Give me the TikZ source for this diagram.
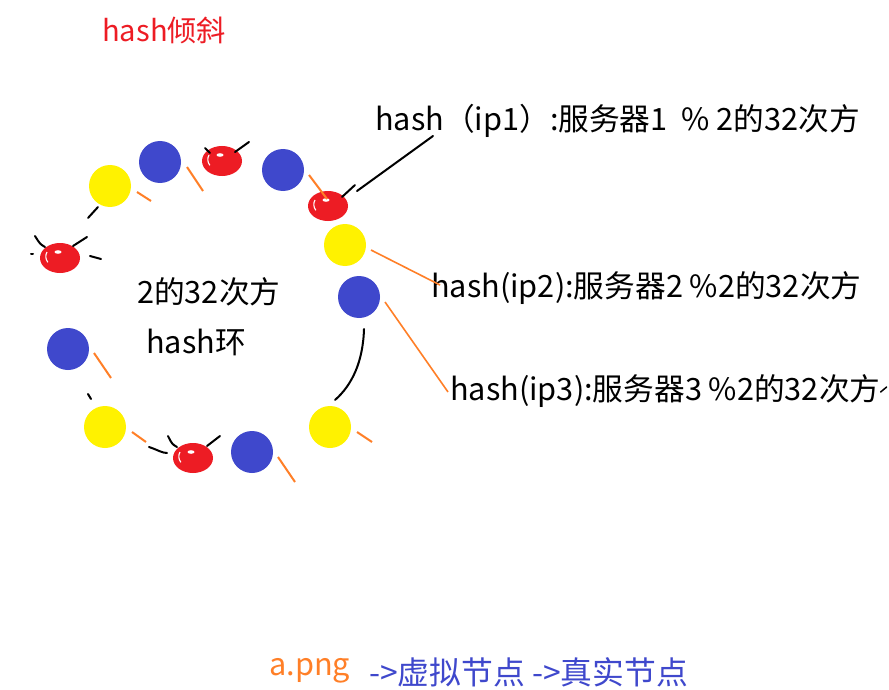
\documentclass[tikz,border=0pt]{standalone}
\usepackage{fontspec}
\setmainfont{Noto Sans CJK SC}
\usetikzlibrary{shapes.geometric}
\definecolor{pyellow}{HTML}{FFF200}
\definecolor{pblue}{HTML}{3F48CC}
\definecolor{pred}{HTML}{ED1C24}
\definecolor{porange}{HTML}{FF7F27}
\tikzset{
  ydot/.style={circle,fill=pyellow,minimum size=42pt,inner sep=0pt},
  bdot/.style={circle,fill=pblue,minimum size=42pt,inner sep=0pt},
  cherry/.style={ellipse,fill=pred,minimum width=40pt,minimum height=30pt,inner sep=0pt,
    path picture={
      \draw[white,line width=1.1pt] (path picture bounding box.center) ++(-13pt,6pt)
        arc[start angle=150,end angle=220,radius=9pt];
      \fill[white] (path picture bounding box.center) ++(-2pt,6pt) ellipse[x radius=3.5pt,y radius=1.8pt];
    }},
  tick/.style={porange,line width=2pt},
  lead/.style={porange,line width=1.6pt},
  stroke/.style={black,line width=2pt,line cap=round},
  lbl/.style={inner sep=0pt,font=\fontsize{30.7}{32}\selectfont},
}
\begin{document}
\begin{tikzpicture}[x=1pt,y=-1pt]
\useasboundingbox (0,0) rectangle (889,690);
\fill[white] (0,0) rectangle (889,690);

% title
\node[lbl,anchor=base west,text=pred,font=\fontsize{29.2}{30}\selectfont] (title) at (102,42) {hash倾斜};

% ring elements
\node[ydot] (y1) at (110,186) {};
\node[bdot] (b1) at (160,162) {};
\node[cherry] (c1) at (222,161) {};
\node[bdot] (b2) at (283,170) {};
\node[cherry] (c2) at (328,206) {};
\node[ydot] (y2) at (345,245) {};
\node[bdot] (b3) at (359,297) {};
\node[ydot] (y4) at (330,427) {};
\node[bdot] (b5) at (252,452) {};
\node[cherry] (c4) at (193,458) {};
\node[ydot] (y3) at (105,427) {};
\node[bdot] (b4) at (68,349) {};
\node[cherry] (c3) at (60,258) {};

% center labels
\node[lbl,anchor=base west] (ring1) at (137,303) {2的32次方};
\node[lbl,anchor=base west] (ring2) at (146,353) {hash环};

% right labels
\node[lbl,anchor=base west] (ip1) at (375,131) {hash（ip1）:服务器1\ \ \% 2的32次方};
\node[lbl,anchor=base west] (ip2) at (431,297) {hash(ip2):服务器2 \%2的32次方};
\node[lbl,anchor=base west] (ip3) at (450,400) {hash(ip3):服务器3 \%2的32次方};

% bottom labels
\node[lbl,anchor=base west,text=porange] (apng) at (269,675) {a.png};
\node[lbl,anchor=base west,text=pblue,font=\fontsize{31.8}{33}\selectfont] (legend) at (369,684) {->虚拟节点 ->真实节点};

% orange ticks
\draw[tick] ([shift={(27,6)}]y1.center) -- ([shift={(41,15)}]y1.center);
\draw[tick] ([shift={(27,5)}]b1.center) -- ([shift={(43,29)}]b1.center);
\draw[tick] ([shift={(26,5)}]b2.center) -- ([shift={(44,29)}]b2.center);
\draw[tick] ([shift={(26,4)}]b4.center) -- ([shift={(43,29)}]b4.center);
\draw[tick] ([shift={(27,5)}]y3.center) -- ([shift={(41,15)}]y3.center);
\draw[tick] ([shift={(26,5)}]b5.center) -- ([shift={(43,30)}]b5.center);
\draw[tick] ([shift={(27,5)}]y4.center) -- ([shift={(42,15)}]y4.center);

% orange leads to labels
\draw[lead] ([shift={(26,5)}]y2.center) -- ([shift={(9,-12)}]ip2.base west);
\draw[lead] ([shift={(26,5)}]b3.center) -- ([shift={(-2,-8)}]ip3.base west);

% black pointer from ip1 label to cherry
\draw[stroke] ([shift={(58,5)}]ip1.base west) -- ([shift={(29,-15)}]c2.center);
\draw[stroke] ([shift={(27,-21)}]c2.center) -- ([shift={(14,-9)}]c2.center);

% black ring fragments
\draw[stroke] ([shift={(-12,21)}]y1.center) -- ([shift={(-22,32)}]y1.center);
\draw[stroke] ([shift={(5,32)}]b3.center) .. controls (363,362) and (352,385) .. ([shift={(5,-27)}]y4.center);
\draw[stroke] ([shift={(-17,-33)}]y3.center) -- ([shift={(-14,-28)}]y3.center);
\draw[stroke] ([shift={(-44,-11)}]c4.center) .. controls (158,450) and (162,453) .. ([shift={(-26,-5)}]c4.center);

% cherry stems
\draw[stroke] ([shift={(-17,-13)}]c1.center) -- ([shift={(-12,-8)}]c1.center);
\draw[stroke] ([shift={(27,-19)}]c1.center) -- ([shift={(13,-9)}]c1.center);
\draw[stroke] ([shift={(-25,-22)}]c3.center) .. controls ([shift={(-20,-14)}]c3.center) .. ([shift={(-15,-11)}]c3.center);
\draw[stroke] ([shift={(27,-21)}]c3.center) -- ([shift={(13,-12)}]c3.center);
\draw[stroke] ([shift={(-29,-4)}]c3.center) -- ([shift={(-27,-4)}]c3.center);
\draw[stroke] ([shift={(30,-2)}]c3.center) -- ([shift={(41,1)}]c3.center);
\draw[stroke] ([shift={(-25,-22)}]c4.center) .. controls ([shift={(-21,-14)}]c4.center) .. ([shift={(-16,-11)}]c4.center);
\draw[stroke] ([shift={(27,-22)}]c4.center) -- ([shift={(14,-12)}]c4.center);

% small tick after ip3 label
\draw[stroke,line width=1.5pt] ([shift={(0,-8)}]ip3.base east) -- ([shift={(6,-13)}]ip3.base east);
\end{tikzpicture}
\end{document}
